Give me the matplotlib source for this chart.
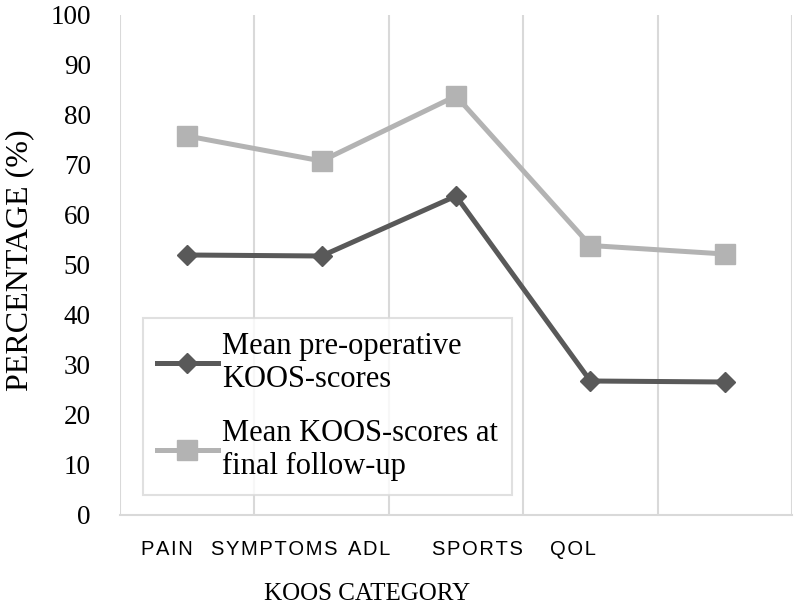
import matplotlib
matplotlib.use("Agg")
import matplotlib.pyplot as plt

categories = ["PAIN", "SYMPTOMS", "ADL", "SPORTS", "QOL"]
# where the category labels sit in the reference (they drift left of the points)
label_pos = [-0.15, 0.65, 1.35, 2.16, 2.87]
pre_op = [52.0, 51.8, 63.8, 26.8, 26.6]
follow_up = [75.8, 70.8, 83.8, 53.9, 52.2]
series_names = ["Mean pre-operative\nKOOS-scores",
                "Mean KOOS-scores at\nfinal follow-up"]
yticks = list(range(0, 101, 10))

plt.rcParams['font.family'] = ['Liberation Serif', 'DejaVu Serif']

fig = plt.figure(figsize=(7.94, 6.09), dpi=100)
ax = fig.add_axes([120 / 794, 94 / 609, 672 / 794, 500 / 609])

x = list(range(len(categories)))
ax.plot(x, pre_op, color='#595959', lw=3.6, marker='D', markersize=10,
        label=series_names[0], zorder=3)
ax.plot(x, follow_up, color='#b3b3b3', lw=3.6, marker='s', markersize=14,
        label=series_names[1], zorder=3)

ax.set_xlim(-0.5, len(categories) - 0.5)
ax.set_ylim(0, 100)
ax.set_yticks(yticks)
ax.tick_params(axis='y', length=0, pad=21, labelsize=19.5)

# vertical grid lines between categories
ax.set_xticks([i - 0.5 for i in range(len(categories) + 1)], minor=True)
ax.grid(which='minor', axis='x', color='#d9d9d9', lw=1.5)
ax.tick_params(which='minor', length=0)

# letter-spaced category labels
spaced = ['\u200a'.join(c) for c in categories]
ax.set_xticks(label_pos)
ax.set_xticklabels(spaced, fontfamily=['Liberation Sans', 'DejaVu Sans'], fontsize=14.5)
ax.tick_params(axis='x', length=0, pad=18)

for side in ['left', 'right', 'top']:
    ax.spines[side].set_visible(False)
ax.spines['bottom'].set_color('#d9d9d9')
ax.spines['bottom'].set_linewidth(1.5)

ax.set_xlabel("KOOS CATEGORY", fontsize=18)
ax.xaxis.set_label_coords(0.368, -0.135)
ax.set_ylabel("PERCENTAGE (%)", fontsize=23)
ax.yaxis.set_label_coords(-0.128, 0.51)

leg = ax.legend(loc='lower left', bbox_to_anchor=(0.034, 0.04), borderaxespad=0,
                fontsize=22, frameon=True, fancybox=False, handlelength=2.0,
                handletextpad=0.15, labelspacing=0.8, borderpad=0.45)
leg.get_frame().set_edgecolor('#d9d9d9')
leg.get_frame().set_linewidth(1.5)

fig.savefig("out.png", dpi=100)
